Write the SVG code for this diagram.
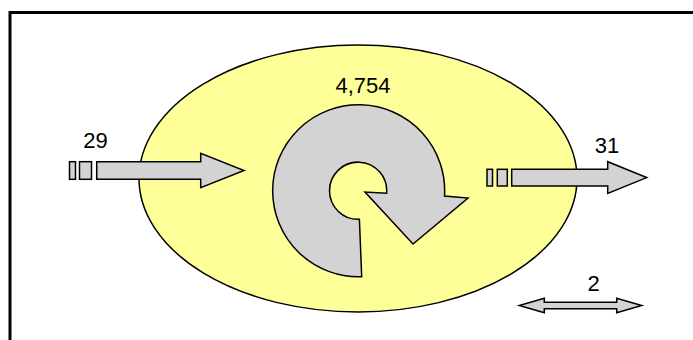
<svg xmlns="http://www.w3.org/2000/svg" width="693" height="340" viewBox="0 0 693 340">
<style>
.shape{fill:#d3d3d3;stroke:#000;stroke-width:1.5;stroke-linejoin:miter}
.lbl{font-family:"Liberation Sans",Arial,sans-serif;font-size:22px;fill:#000;text-anchor:middle}
</style>
<rect width="693" height="340" fill="#fff"/>
<path d="M10 345 V12.5 H700" fill="none" stroke="#000" stroke-width="3"/>
<g id="system">
<ellipse cx="358" cy="178.5" rx="219" ry="133.5" fill="#ffff99" stroke="#000" stroke-width="1.5"/>
</g>
<g id="cycle">
<path class="shape" d="M361.7 276.7 A86 86 0 1 1 444.5 196 L468 198 L413 244 L365 192 L386.6 193.2 A28.6 28.6 0 1 0 359.4 219.3 Z"/>
<text class="lbl" x="363" y="93">4,754</text>
</g>
<g id="inflow">
<rect class="shape" x="69.5" y="161.7" width="6" height="17.6"/>
<rect class="shape" x="79.5" y="161.7" width="12" height="17.6"/>
<path class="shape" d="M96.7 161.7 H200.7 V153.3 L244 170.5 L200.7 187.7 V179.3 H96.7 Z"/>
<text class="lbl" x="95.5" y="147.5">29</text>
</g>
<g id="outflow">
<rect class="shape" x="487" y="169.3" width="5.5" height="16.7"/>
<rect class="shape" x="497.3" y="169.3" width="10" height="16.7"/>
<path class="shape" d="M511.7 169.3 H607.7 V161.7 L646.7 177.6 L607.7 193.4 V186 H511.7 Z"/>
<text class="lbl" x="607" y="153">31</text>
</g>
<g id="exchange">
<path class="shape" d="M519.3 305.5 L544.3 298.3 V302.3 H616.7 V298.3 L641.7 305.5 L616.7 312.7 V308.7 H544.3 V312.7 Z"/>
<text class="lbl" x="593.5" y="290.5">2</text>
</g>
</svg>
